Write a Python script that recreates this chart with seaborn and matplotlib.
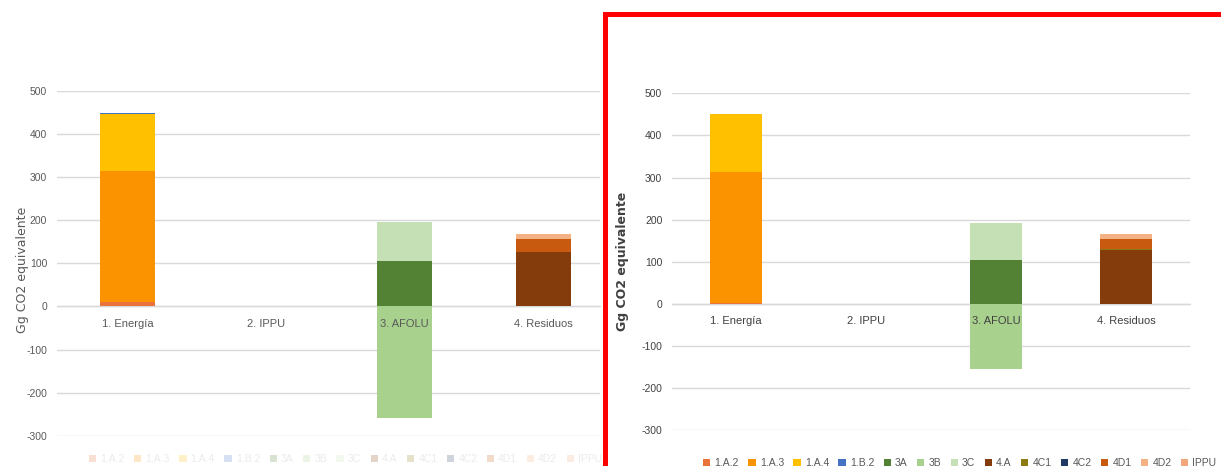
import matplotlib
matplotlib.use("Agg")
import matplotlib.pyplot as plt
from matplotlib.patches import Patch, Rectangle
import numpy as np
import seaborn as sns

# Sector categories on the x axis
categories = ["1. Energía", "2. IPPU", "3. AFOLU", "4. Residuos"]

# Emission sub-categories (stack order, bottom to top)
series_names = ["1.A.2", "1.A.3", "1.A.4", "1.B.2", "3A", "3B", "3C",
                "4.A", "4C1", "4C2", "4D1", "4D2", "IPPU"]
series_colors = ["#E8743B", "#FB9300", "#FFC000", "#4472C4", "#548235",
                 "#A9D18E", "#C5E0B4", "#843C0C", "#8C7A12", "#203864",
                 "#C85A10", "#F4B183", "#F2A77C"]

# Left chart: values (Gg CO2 eq) per sub-category for each sector
left_energia = [10, 304, 133, 3, 0, 0, 0, 0, 0, 0, 0, 0, 0]
left_ippu = [0, 0, 0, 0, 0, 0, 0, 0, 0, 0, 0, 0, 0]
left_afolu = [0, 0, 0, 0, 105, -258, 90, 0, 0, 0, 0, 0, 0]
left_residuos = [0, 0, 0, 0, 0, 0, 0, 126, 0, 0, 31, 10, 0]

# Right chart: values (Gg CO2 eq) per sub-category for each sector
right_energia = [3, 310, 138, 0, 0, 0, 0, 0, 0, 0, 0, 0, 0]
right_ippu = [0, 0, 0, 0, 0, 0, 0, 0, 0, 0, 0, 0, 0]
right_afolu = [0, 0, 0, 0, 104, -155, 88, 0, 0, 0, 0, 0, 0]
right_residuos = [0, 0, 0, 0, 0, 0, 0, 128, 2, 0, 24, 13, 0]

y_ticks = [-300, -200, -100, 0, 100, 200, 300, 400, 500]
y_label = "Gg CO2 equivalente"

sns.set_theme(style="white")
plt.rcParams["font.family"] = ["Liberation Sans", "DejaVu Sans"]
plt.rcParams["axes.unicode_minus"] = False

fig = plt.figure(figsize=(12.21, 4.66), dpi=100)
ax_left = fig.add_axes([0.0467, 0.065, 0.4447, 0.7397])
ax_right = fig.add_axes([0.5504, 0.077, 0.4242, 0.7227])


def draw_stacked(ax, sector_rows, xlim, tick_color):
    data = np.array(sector_rows, dtype=float).T  # series x category
    pos_base = np.zeros(len(categories))
    neg_base = np.zeros(len(categories))
    for name, color, vals in zip(series_names, series_colors, data):
        base = np.where(vals >= 0, pos_base, neg_base)
        sns.barplot(x=categories, y=vals, bottom=base, color=color,
                    width=0.4, saturation=1, linewidth=0, ax=ax, zorder=3)
        pos_base += np.clip(vals, 0, None)
        neg_base += np.clip(vals, None, 0)
    ax.set_ylim(-300, 500)
    ax.set_xlim(*xlim)
    ax.set_yticks(y_ticks)
    ax.yaxis.grid(True, color="#D9D9D9", linewidth=1.0)
    ax.xaxis.grid(False)
    # gridlines behind the bars, category labels in front of them
    ax.yaxis.set_zorder(0.5)
    ax.xaxis.set_zorder(5)
    for side in ["left", "right", "top"]:
        ax.spines[side].set_visible(False)
    ax.spines["bottom"].set_position(("data", 0))
    ax.spines["bottom"].set_color("#D9D9D9")
    ax.spines["bottom"].set_linewidth(1.0)
    ax.spines["bottom"].set_zorder(1)
    ax.tick_params(axis="x", length=0, pad=9, labelsize=8, colors=tick_color)
    ax.tick_params(axis="y", length=0, pad=7, labelsize=7.5, colors=tick_color)
    ax.set_xlabel("")
    ax.set_facecolor("white")


draw_stacked(ax_left, [left_energia, left_ippu, left_afolu, left_residuos],
             (-0.51, 3.41), "#595959")
draw_stacked(ax_right, [right_energia, right_ippu, right_afolu, right_residuos],
             (-0.49, 3.49), "#404040")

ax_left.set_ylabel(y_label, fontsize=9, color="#595959",
                   family=["DejaVu Sans"])
ax_left.yaxis.set_label_coords(-0.052, 0.48)
ax_right.set_ylabel(y_label, fontsize=9, color="#404040",
                    family=["DejaVu Sans"], fontweight="bold")
ax_right.yaxis.set_label_coords(-0.084, 0.5)

handles = [Patch(facecolor=c, edgecolor="none") for c in series_colors]
leg_kw = dict(ncol=len(series_names), frameon=False, fontsize=7.5,
              handlelength=0.7, handleheight=0.7, handletextpad=0.4,
              columnspacing=0.9, loc="center")

# Faded legend under the left chart
leg_l = fig.legend(handles, series_names, bbox_to_anchor=(0.283, 0.014),
                   labelcolor="#595959", **leg_kw)
for t in leg_l.get_texts():
    t.set_alpha(0.12)
for h in leg_l.legend_handles:
    h.set_alpha(0.22)

# Legend under the right chart (runs off the bottom edge)
fig.legend(handles, series_names, bbox_to_anchor=(0.786, 0.006),
           labelcolor="#595959", **leg_kw)

# Red frame highlighting the right chart
fig.patches.append(Rectangle((0.4951, -0.2), 0.6, 1.1689,
                             transform=fig.transFigure, fill=False,
                             edgecolor="#FF0000", linewidth=3.6))

fig.savefig("out.png", dpi=100)
